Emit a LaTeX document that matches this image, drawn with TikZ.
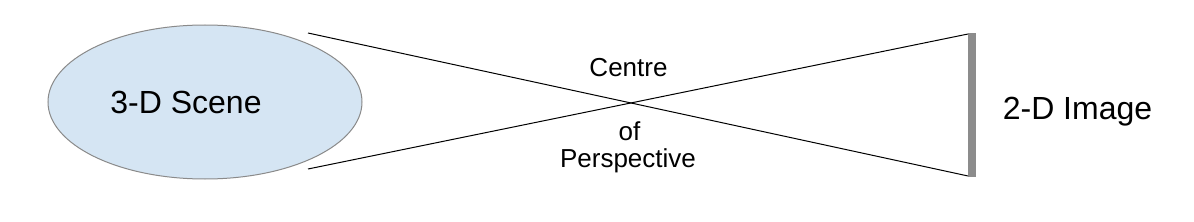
\documentclass[tikz,border=0pt]{standalone}
\usepackage{fontspec}
\setmainfont{Liberation Sans}
\usetikzlibrary{shapes.geometric}
\definecolor{scenefill}{HTML}{D5E5F3}
\definecolor{sceneline}{HTML}{8A8A8A}
\definecolor{bargray}{HTML}{8C8C8C}
\tikzset{
  bigtext/.style={font=\fontsize{32}{38}\selectfont, inner sep=0pt, anchor=base},
  midtext/.style={font=\fontsize{26}{31}\selectfont, inner sep=0pt, anchor=base},
  ray/.style={draw=black, line width=1pt},
}
\begin{document}
\begin{tikzpicture}[x=1pt,y=-1pt]
\useasboundingbox (0,0) rectangle (1194,222);
\node[ellipse, draw=sceneline, line width=1pt, fill=scenefill, minimum width=314pt, minimum height=154pt, inner sep=0pt] (scene) at (205,102) {};
\node[bigtext] (scenelabel) at (186,113) {3-D Scene};
\node[rectangle, fill=bargray, minimum width=7.5pt, minimum height=144pt, inner sep=0pt] (img) at (972,105) {};
\node[bigtext] (imglabel) at (1077.5,119) {2-D Image};
\node[midtext] (centre) at (628.5,77) {Centre};
\node[midtext] (of) at (629.5,140) {of};
\node[midtext] (persp) at (628,167) {Perspective};
\coordinate (a1) at (308,33);
\coordinate (b1) at (308,169);
\coordinate (imgtop) at ([yshift=71pt]img.west);
\coordinate (imgbot) at ([yshift=-71pt]img.west);
\draw[ray] (a1) -- (imgbot);
\draw[ray] (b1) -- (imgtop);
\end{tikzpicture}
\end{document}
